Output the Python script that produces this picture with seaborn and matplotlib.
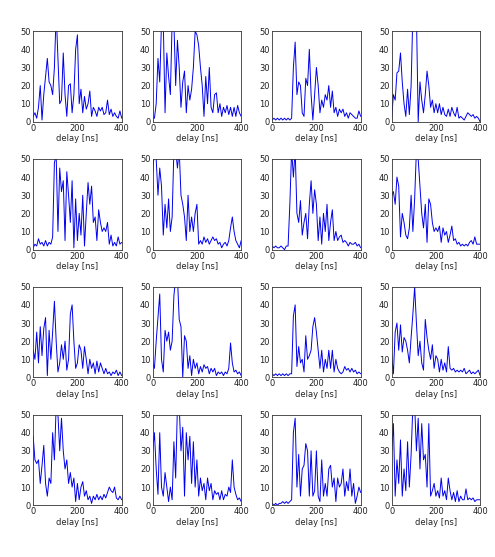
import numpy as np
import matplotlib
matplotlib.use("Agg")
import matplotlib.pyplot as plt
import seaborn as sns

# delay grid [ns], one sample every 8 ns
delay = np.arange(0, 401, 8)

# power delay profiles (row, column)
p11 = [3, 5, 2, 8, 20, 1, 15, 25, 35, 22, 20, 15, 30, 60, 35, 10, 12, 38, 15, 3, 20, 21, 5, 15, 40, 48,
       10, 18, 5, 14, 7, 10, 17, 3, 8, 6, 3, 8, 6, 8, 4, 5, 12, 4, 7, 3, 5, 3, 2, 6, 2]
p12 = [2, 2, 10, 35, 22, 55, 55, 5, 38, 25, 15, 55, 55, 20, 45, 30, 8, 22, 28, 5, 20, 12, 18, 30, 50, 48,
       42, 30, 20, 3, 25, 10, 30, 8, 5, 15, 16, 5, 10, 3, 8, 5, 9, 4, 8, 3, 8, 3, 9, 5, 3]
p13 = [1, 2, 1, 2, 1, 2, 1, 2, 1, 2, 1, 2, 30, 44, 15, 22, 20, 5, 3, 24, 20, 40, 15, 1, 15, 30,
       20, 5, 12, 8, 15, 12, 20, 8, 17, 5, 8, 3, 7, 5, 7, 3, 5, 2, 5, 4, 3, 2, 2, 6, 3]
p14 = [2, 15, 12, 27, 28, 38, 22, 10, 3, 18, 4, 20, 60, 55, 60, 0, 22, 12, 5, 15, 28, 20, 8, 12, 5, 10,
       5, 10, 4, 8, 4, 3, 7, 3, 8, 5, 3, 8, 2, 3, 2, 1, 3, 5, 4, 3, 4, 2, 3, 2, 0]

p21 = [1, 3, 2, 6, 3, 4, 2, 5, 2, 4, 3, 7, 48, 52, 10, 45, 32, 38, 5, 43, 30, 15, 38, 1, 28, 5,
       20, 8, 30, 2, 20, 37, 25, 35, 15, 18, 5, 22, 15, 10, 12, 10, 15, 3, 8, 2, 4, 2, 7, 3, 4]
p22 = [42, 55, 50, 30, 45, 35, 8, 25, 12, 28, 10, 18, 55, 55, 45, 55, 30, 25, 18, 5, 30, 10, 18, 10, 20, 25,
       3, 5, 3, 7, 4, 6, 3, 5, 7, 5, 6, 3, 4, 1, 3, 4, 2, 5, 12, 18, 10, 5, 3, 1, 5]
p23 = [2, 1, 2, 1, 1, 2, 1, 0, 2, 2, 25, 55, 40, 55, 20, 15, 27, 8, 15, 20, 6, 25, 38, 20, 33, 25,
       5, 18, 3, 20, 10, 25, 5, 15, 22, 5, 10, 5, 7, 8, 4, 5, 4, 2, 4, 3, 3, 4, 2, 3, 1]
p24 = [30, 32, 25, 40, 35, 7, 20, 15, 8, 6, 12, 30, 10, 28, 55, 50, 35, 20, 12, 25, 4, 28, 25, 15, 10, 12,
       10, 13, 4, 12, 8, 10, 4, 8, 13, 5, 6, 3, 4, 2, 3, 2, 3, 2, 4, 5, 3, 7, 3, 3, 3]

p31 = [15, 10, 25, 8, 28, 12, 27, 33, 1, 26, 10, 25, 42, 20, 3, 8, 18, 10, 20, 4, 10, 35, 40, 20, 5, 8,
       18, 15, 5, 17, 10, 2, 10, 5, 8, 2, 9, 3, 8, 5, 2, 5, 2, 3, 1, 3, 2, 4, 1, 3, 1]
p32 = [8, 5, 20, 33, 46, 10, 3, 26, 20, 25, 15, 20, 45, 55, 55, 32, 28, 0, 23, 20, 5, 12, 1, 10, 5, 8,
       2, 6, 3, 7, 5, 6, 2, 5, 3, 5, 1, 3, 2, 3, 1, 3, 2, 5, 19, 8, 3, 4, 2, 3, 1]
p33 = [2, 1, 2, 1, 2, 1, 2, 1, 2, 1, 2, 2, 34, 40, 6, 17, 8, 10, 3, 23, 10, 12, 15, 28, 33, 25,
       15, 5, 15, 3, 10, 5, 15, 5, 15, 3, 10, 5, 3, 2, 3, 6, 4, 5, 3, 5, 3, 4, 2, 3, 2]
p34 = [12, 2, 25, 30, 15, 29, 14, 22, 20, 15, 8, 22, 35, 50, 30, 12, 20, 8, 4, 32, 22, 15, 10, 18, 5, 12,
       10, 3, 10, 4, 8, 3, 17, 5, 4, 5, 3, 4, 3, 4, 3, 5, 2, 3, 4, 2, 3, 2, 3, 4, 1]

p41 = [38, 25, 23, 25, 12, 22, 33, 12, 5, 15, 12, 40, 25, 55, 50, 30, 48, 30, 20, 25, 12, 18, 10, 15, 2, 12,
       3, 10, 13, 5, 8, 3, 5, 1, 5, 3, 6, 3, 5, 3, 6, 4, 7, 10, 8, 7, 10, 4, 3, 5, 3]
p42 = [30, 40, 20, 6, 40, 10, 5, 18, 10, 2, 10, 3, 35, 15, 55, 55, 30, 43, 5, 40, 25, 38, 12, 35, 10, 25,
       5, 15, 8, 12, 3, 15, 8, 12, 3, 8, 6, 7, 3, 8, 3, 6, 5, 10, 7, 25, 10, 6, 3, 4, 2]
p43 = [1, 0, 1, 0, 1, 1, 2, 1, 2, 1, 2, 3, 40, 48, 10, 28, 5, 20, 22, 34, 30, 5, 30, 5, 8, 30,
       5, 2, 25, 5, 12, 5, 20, 22, 10, 15, 2, 15, 10, 12, 20, 5, 13, 8, 20, 5, 12, 1, 5, 10, 7]
p44 = [30, 45, 5, 25, 12, 36, 5, 20, 8, 35, 10, 28, 55, 55, 30, 48, 20, 45, 25, 28, 10, 45, 5, 8, 12, 5,
       8, 4, 15, 5, 8, 3, 15, 8, 3, 7, 2, 8, 2, 5, 3, 3, 9, 3, 4, 3, 4, 2, 3, 3, 3]

profiles = [p11, p12, p13, p14, p21, p22, p23, p24,
            p31, p32, p33, p34, p41, p42, p43, p44]

sns.set_style("white")
plt.rcParams.update({
    "font.family": ["DejaVu Sans"],
    "xtick.direction": "in",
    "ytick.direction": "in",
    "xtick.major.size": 2.5,
    "ytick.major.size": 2.5,
    "axes.linewidth": 0.6,
    "axes.edgecolor": "#333333",
})

fig, axes = plt.subplots(4, 4, figsize=(4.95, 5.57), dpi=100)
fig.subplots_adjust(left=0.067, right=0.97, top=0.944, bottom=0.093,
                    wspace=0.35, hspace=0.41)

for ax, prof in zip(axes.flat, profiles):
    sns.lineplot(x=delay, y=prof, ax=ax, color="#0000ee", linewidth=0.7)
    ax.set_xlim(0, 400)
    ax.set_ylim(0, 50)
    ax.set_xticks([0, 200, 400])
    ax.set_yticks([0, 10, 20, 30, 40, 50])
    ax.tick_params(labelsize=6, pad=1.5, width=0.5, colors="#222222")
    ax.set_xlabel("delay [ns]", fontsize=6, labelpad=1)
    ax.set_ylabel("")
    for s in ax.spines.values():
        s.set_visible(True)

fig.savefig("out.png", dpi=100)
